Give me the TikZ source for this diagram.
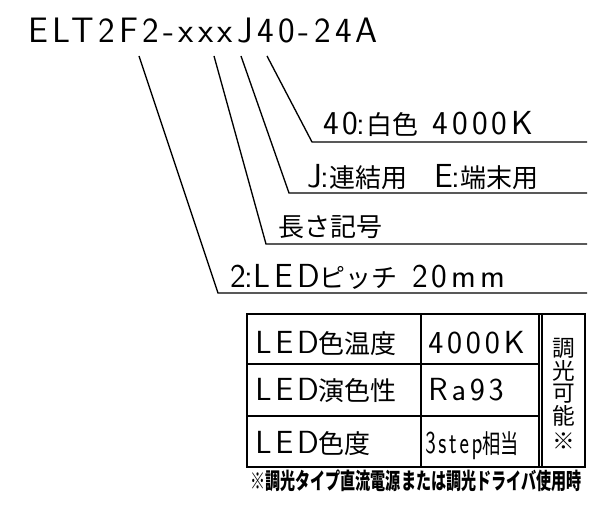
\documentclass[tikz,border=0pt]{standalone}
\usepackage{fontspec}
\usepackage{graphicx}
\newfontfamily\cadfont{lmsans17-regular.otf}[LetterSpace=12]
\newfontfamily\jpfont{Noto Sans CJK JP}
\newcommand{\jp}[1]{{\fontsize{19.5}{24}\selectfont\jpfont #1}}
\newcommand{\cln}{\hspace{-0.05em}:\hspace{0.02em}}
\usetikzlibrary{positioning}

\begin{document}
\begin{tikzpicture}[
    x=0.75pt, y=-0.75pt,
    codetext/.style={anchor=base west, inner sep=0pt, font=\fontsize{25}{28}\selectfont\cadfont},
    celltext/.style={anchor=base west, inner sep=0pt, font=\fontsize{24}{26}\selectfont\cadfont},
    leader/.style={line width=1pt},
    grid/.style={line width=1pt}
]
    \useasboundingbox (0,0) rectangle (589,506);

    % product code
    \node[codetext, font=\fontsize{26.5}{30}\selectfont\cadfont] (title) at (28,43) {ELT2F2-xxxJ40-24A};

    % leader lines
    \coordinate (l_pitch_top) at (139,56);
    \coordinate (l_pitch_bend) at (218,293);
    \coordinate (l_pitch_end) at (587,293);
    \coordinate (l_len_top) at (214,56);
    \coordinate (l_len_bend) at (266,244);
    \coordinate (l_len_end) at (587,244);
    \coordinate (l_join_top) at (241,56);
    \coordinate (l_join_bend) at (289,193);
    \coordinate (l_join_end) at (587,193);
    \coordinate (l_color_top) at (267,56);
    \coordinate (l_color_bend) at (312,142);
    \coordinate (l_color_end) at (587,142);

    \draw[leader] (l_pitch_top) -- (l_pitch_bend) -- (l_pitch_end);
    \draw[leader] (l_len_top) -- (l_len_bend) -- (l_len_end);
    \draw[leader] (l_join_top) -- (l_join_bend) -- (l_join_end);
    \draw[leader] (l_color_top) -- (l_color_bend) -- (l_color_end);

    \node[codetext] (lab_color) at (323,135) {40\cln\jp{白色} 4000K};
    \node[codetext] (lab_join) at (307,188) {J\cln\jp{連結用}\hspace{20pt}E\cln\jp{端末用}};
    \node[codetext] (lab_len) at (278,237) {\jp{長さ記号}};
    \node[codetext] (lab_pitch) at (230,287) {2\cln LED\jp{ピッチ} 20mm};

    % spec table
    \draw[grid] (247,314) rectangle (585,467);
    \draw[grid] (247,364) -- (539,364);
    \draw[grid] (247,416) -- (539,416);
    \draw[grid] (421,314) -- (421,467);
    \draw[grid] (539,314) -- (539,467);
    \draw[grid] (542,314) -- (542,467);

    \node[celltext] (cct_key) at (255,353) {LED\jp{色温度}};
    \node[celltext] (cct_val) at (428,353) {4000K};
    \node[celltext] (cri_key) at (255,400) {LED\jp{演色性}};
    \node[celltext] (cri_val) at (428,400) {Ra93};
    \node[celltext] (step_key) at (255,453) {LED\jp{色度}};
    \node[celltext] (step_val) at (425,453) {\scalebox{0.7}[1]{3step\jp{相当}}};

    \node[inner sep=0pt, align=center, font=\fontsize{17}{17}\selectfont\jpfont] (dim) at (564,394)
        {調\\光\\可\\能\\[2pt]※};

    % footnote
    \node[anchor=base west, inner sep=0pt, font=\fontsize{17}{19}\selectfont\jpfont\bfseries] (foot) at (250,489)
        {\scalebox{0.665}[1]{※調光タイプ直流電源または調光ドライバ使用時}};
\end{tikzpicture}
\end{document}
